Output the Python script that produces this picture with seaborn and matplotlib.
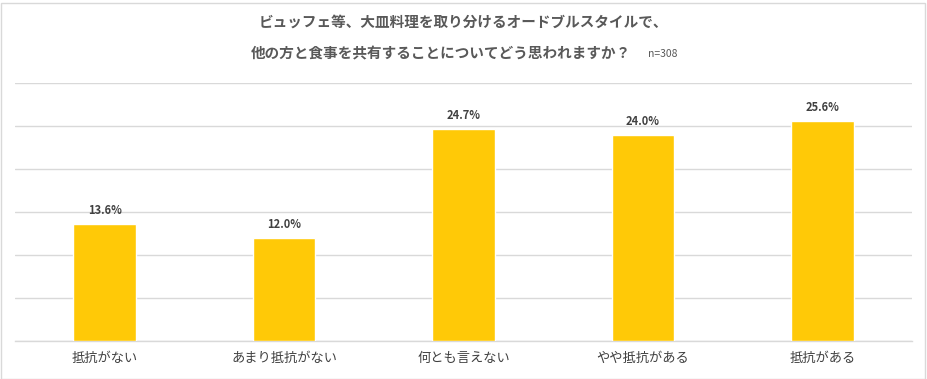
import matplotlib
matplotlib.use("Agg")
import matplotlib.pyplot as plt
import seaborn as sns
import pandas as pd
from matplotlib.patches import Rectangle

categories = ["抵抗がない", "あまり抵抗がない", "何とも言えない", "やや抵抗がある", "抵抗がある"]
values = [13.6, 12.0, 24.7, 24.0, 25.6]
title_line1 = "ビュッフェ等、大皿料理を取り分けるオードブルスタイルで、"
title_line2 = "他の方と食事を共有することについてどう思われますか？"
sample_note = "n=308"

sns.set_theme(style="white")
plt.rcParams['font.family'] = ['Noto Sans CJK JP', 'DejaVu Sans']

df = pd.DataFrame({"cat": categories, "val": values})

W, H = 927, 379
fig = plt.figure(figsize=(W / 100, H / 100), dpi=100)
ax = fig.add_axes([15 / W, (H - 341) / H, (912 - 15) / W, (341 - 83) / H])

sns.barplot(data=df, x="cat", y="val", color="#FFC907", width=0.35,
            saturation=1, ax=ax, zorder=3)

ax.set_ylim(0, 30)
ax.set_xlim(-0.5, len(categories) - 0.5)
ax.set_yticks(range(0, 31, 5))
ax.yaxis.grid(True, color="#D9D9D9", linewidth=1, zorder=0)
ax.set_yticklabels([])
ax.tick_params(axis="y", length=0)
ax.tick_params(axis="x", length=0, labelsize=9.5, labelcolor="#404040", pad=8)
ax.set_xlabel("")
ax.set_ylabel("")
for s in ["top", "left", "right"]:
    ax.spines[s].set_visible(False)
ax.spines["bottom"].set_color("#D9D9D9")
ax.spines["bottom"].set_linewidth(1)

for p, v in zip(ax.patches, values):
    ax.annotate(f"{v:.1f}%", (p.get_x() + p.get_width() / 2, p.get_height()),
                xytext=(0, 5), textcoords="offset points", ha="center", va="bottom",
                fontsize=8, fontweight="bold", color="#404040")

fig.text(0.5, 1 - 22 / H, title_line1, ha="center", va="center",
         fontsize=10.5, fontweight="bold", color="#595959")
fig.text(631 / W, 1 - 53 / H, title_line2, ha="right", va="center",
         fontsize=10.5, fontweight="bold", color="#595959")
fig.text(648 / W, 1 - 54 / H, sample_note, ha="left", va="center",
         fontsize=7.5, color="#595959")

fig.add_artist(Rectangle((0.5 / W, 0.5 / H), (W - 3) / W, (H - 3) / H,
                         transform=fig.transFigure, fill=False,
                         edgecolor="#D9D9D9", linewidth=1))

fig.savefig("out.png", dpi=100)
